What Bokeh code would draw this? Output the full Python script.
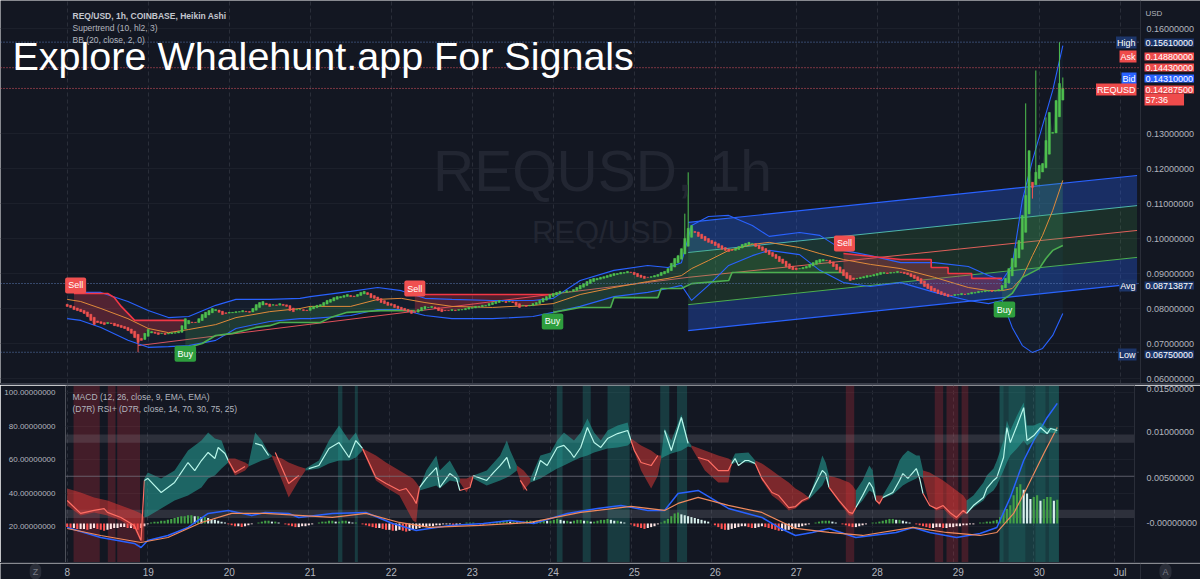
from bokeh.plotting import figure
from bokeh.models import (Range1d, LinearAxis, FixedTicker, CustomJSTickFormatter,
                          NumeralTickFormatter, Label, Span, Spacer, BoxAnnotation, ColumnDataSource)
from bokeh.layouts import column
from bokeh.embed import file_html
from bokeh.resources import INLINE
from bokeh.core.properties import value

# ------------------------------------------------------------------ data
day_ticks = [0, 24, 48, 72, 96, 120, 144, 168, 192, 216, 240, 264, 288, 312]
day_labels = ["8", "19", "20", "21", "22", "23", "24", "25", "26", "27", "28", "29", "30", "Jul"]
price_ticks = [0.06, 0.07, 0.08, 0.09, 0.10, 0.11, 0.12, 0.13, 0.16]

ha_first_open = 0.0812
ha_close = [
    0.0806, 0.0803, 0.0797, 0.0794, 0.0791, 0.0786, 0.0777, 0.0766, 0.0754, 0.0760, 0.0757, 0.0754,
    0.0760, 0.0757, 0.0751, 0.0749, 0.0746, 0.0743, 0.0737, 0.0729, 0.0717, 0.0703, 0.0709, 0.0729,
    0.0740, 0.0734, 0.0729, 0.0726, 0.0729, 0.0726, 0.0729, 0.0731, 0.0731, 0.0734, 0.0751, 0.0771,
    0.0766, 0.0760, 0.0760, 0.0771, 0.0783, 0.0789, 0.0794, 0.0800, 0.0797, 0.0789, 0.0783, 0.0786,
    0.0789, 0.0789, 0.0791, 0.0791, 0.0794, 0.0791, 0.0789, 0.0800, 0.0811, 0.0817, 0.0820, 0.0811,
    0.0806, 0.0811, 0.0809, 0.0814, 0.0809, 0.0806, 0.0794, 0.0791, 0.0797, 0.0797, 0.0794, 0.0794,
    0.0803, 0.0806, 0.0809, 0.0811, 0.0817, 0.0823, 0.0826, 0.0831, 0.0834, 0.0834, 0.0837, 0.0840,
    0.0834, 0.0834, 0.0840, 0.0846, 0.0849, 0.0840, 0.0831, 0.0829, 0.0823, 0.0817, 0.0814, 0.0809,
    0.0809, 0.0803, 0.0800, 0.0797, 0.0794, 0.0791, 0.0786, 0.0789, 0.0797, 0.0803, 0.0806, 0.0803,
    0.0806, 0.0800, 0.0794, 0.0791, 0.0794, 0.0794, 0.0797, 0.0794, 0.0797, 0.0797, 0.0800, 0.0803,
    0.0803, 0.0806, 0.0806, 0.0809, 0.0809, 0.0814, 0.0817, 0.0820, 0.0823, 0.0820, 0.0817, 0.0820,
    0.0817, 0.0809, 0.0803, 0.0809, 0.0806, 0.0809, 0.0814, 0.0817, 0.0823, 0.0829, 0.0834, 0.0840,
    0.0843, 0.0846, 0.0849, 0.0846, 0.0851, 0.0849, 0.0854, 0.0860, 0.0866, 0.0871, 0.0877, 0.0883,
    0.0886, 0.0886, 0.0889, 0.0891, 0.0894, 0.0897, 0.0900, 0.0900, 0.0903, 0.0903, 0.0906, 0.0903,
    0.0897, 0.0891, 0.0889, 0.0886, 0.0889, 0.0891, 0.0894, 0.0897, 0.0903, 0.0906, 0.0914, 0.0929,
    0.0943, 0.0951, 0.0971, 0.1000, 0.1029, 0.1037, 0.1017, 0.1006, 0.1000, 0.0994, 0.0989, 0.0986,
    0.0980, 0.0974, 0.0969, 0.0966, 0.0963, 0.0966, 0.0971, 0.0977, 0.0983, 0.0986, 0.0989, 0.0986,
    0.0977, 0.0971, 0.0966, 0.0960, 0.0954, 0.0949, 0.0943, 0.0934, 0.0929, 0.0920, 0.0914, 0.0911,
    0.0911, 0.0914, 0.0917, 0.0920, 0.0926, 0.0931, 0.0937, 0.0940, 0.0940, 0.0937, 0.0929, 0.0920,
    0.0911, 0.0903, 0.0894, 0.0886, 0.0880, 0.0883, 0.0886, 0.0889, 0.0891, 0.0894, 0.0894, 0.0897,
    0.0900, 0.0903, 0.0903, 0.0900, 0.0903, 0.0903, 0.0906, 0.0903, 0.0900, 0.0897, 0.0891, 0.0886,
    0.0880, 0.0871, 0.0863, 0.0857, 0.0851, 0.0849, 0.0843, 0.0840, 0.0837, 0.0834, 0.0837, 0.0840,
    0.0840, 0.0843, 0.0840, 0.0843, 0.0846, 0.0846, 0.0849, 0.0849, 0.0851, 0.0851, 0.0849, 0.0851,
    0.0854, 0.0866, 0.0886, 0.0914, 0.0943, 0.0971, 0.0994, 0.1066, 0.1123, 0.1251, 0.1146, 0.1189,
    0.1209, 0.1214, 0.1280, 0.1360, 0.1303, 0.1394, 0.1443, 0.142875,
]
spike_h = [21, 183, 184, 284, 286, 287, 290, 294, 295]
spike_high = [None, 0.1071, 0.1189, 0.1386, None, 0.1480, 0.1346, 0.1561, 0.1460]
spike_low = [0.0675, None, None, None, 0.1114, None, None, None, None]

bb_h = [0, 4, 10, 18, 24, 30, 36, 44, 50, 60, 69, 72, 84, 92, 99, 106, 114, 126, 138, 144, 152, 162,
        172, 178, 182, 185, 190, 196, 203, 208, 217, 223, 230, 238, 247, 257, 267, 273, 277, 280, 283,
        286, 289, 292, 295]
bb_upper = [0.0851, 0.0846, 0.0846, 0.0820, 0.0794, 0.0774, 0.0777, 0.0809, 0.0826, 0.0826, 0.0829,
            0.0834, 0.0849, 0.0860, 0.0851, 0.0829, 0.0826, 0.0823, 0.0823, 0.0829, 0.0880, 0.0909,
            0.0923, 0.0917, 0.0931, 0.1037, 0.1063, 0.1066, 0.1037, 0.1006, 0.1017, 0.1009, 0.0966,
            0.0951, 0.0931, 0.0931, 0.0920, 0.0894, 0.0880, 0.0923, 0.1109, 0.1223, 0.1323, 0.1423, 0.1551]
bb_basis = [0.0826, 0.0820, 0.0800, 0.0771, 0.0743, 0.0731, 0.0740, 0.0754, 0.0774, 0.0791, 0.0800,
            0.0806, 0.0806, 0.0826, 0.0829, 0.0817, 0.0806, 0.0803, 0.0809, 0.0814, 0.0840, 0.0860,
            0.0877, 0.0886, 0.0894, 0.0914, 0.0937, 0.0966, 0.0983, 0.0989, 0.0974, 0.0957, 0.0940,
            0.0926, 0.0914, 0.0889, 0.0860, 0.0851, 0.0851, 0.0857, 0.0889, 0.0951, 0.1009, 0.1080, 0.1166]
bb_lower = [0.0771, 0.0766, 0.0746, 0.0709, 0.0689, 0.0691, 0.0694, 0.0709, 0.0743, 0.0763, 0.0771,
            0.0771, 0.0780, 0.0797, 0.0797, 0.0780, 0.0771, 0.0771, 0.0777, 0.0789, 0.0806, 0.0834,
            0.0846, 0.0857, 0.0866, 0.0823, 0.0866, 0.0923, 0.0951, 0.0966, 0.0954, 0.0909, 0.0874,
            0.0863, 0.0874, 0.0846, 0.0823, 0.0814, 0.0823, 0.0746, 0.0694, 0.0674, 0.0686, 0.0723, 0.0786]

st_red_h = [[2, 12, 14, 16, 18, 20, 35], [103, 120, 144],
            [230, 247, 256, 256, 261, 261, 268, 268, 277]]
st_red_v = [[0.0843, 0.0843, 0.0831, 0.0806, 0.0786, 0.0766, 0.0766], [0.0840, 0.0840, 0.0840],
            [0.0957, 0.0940, 0.0940, 0.0917, 0.0917, 0.0900, 0.0900, 0.0886, 0.0886]]
st_green_h = [[35, 40, 44, 49, 56, 60, 63, 75, 78, 83, 93, 103],
              [144, 152, 161, 162, 175, 176, 182, 185, 196, 197, 230],
              [277, 280, 283, 288, 290, 292, 295]]
st_green_v = [[0.0686, 0.0700, 0.0723, 0.0729, 0.0746, 0.0751, 0.0760, 0.0760, 0.0774, 0.0789, 0.0794, 0.0794],
              [0.0789, 0.0803, 0.0803, 0.0831, 0.0831, 0.0857, 0.0857, 0.0871, 0.0880, 0.0903, 0.0903],
              [0.0823, 0.0843, 0.0889, 0.0914, 0.0943, 0.0966, 0.0980]]

sell_h = [2.5, 103, 230.3]
sell_p = [0.0866, 0.0857, 0.0986]
buy_h = [35, 143.8, 277.7]
buy_p = [0.0671, 0.0763, 0.0797]

reg_h = [184, 317]
reg_upper = [0.1046, 0.1180]
reg_upmid = [0.0960, 0.1094]
reg_center = [0.0889, 0.1023]
reg_lowmid = [0.0811, 0.0946]
reg_lower = [0.0737, 0.0871]
trend_h = [21, 184]
trend_v = [0.0694, 0.0889]

price_high = 0.1561
price_ask = 0.1488
price_mark = 0.1443
price_bid = 0.1431
price_last = 0.142875
price_avg = 0.08713877
price_low = 0.0675

macd_hist_e4 = [
    -4, -5, -5, -6, -6, -6, -7, -6, -5, -6, -7, -8, -7, -6, -5, -5, -4, -4, -5, -5, -6, -7, -5, -3,
    -1, 1, 2, 2, 3, 3, 4, 5, 6, 7, 8, 8, 9, 9, 8, 8, 7, 7, 6, 5, 4, 3, 2, 1,
    -1, -2, -3, -3, -4, -3, -2, -1, 0, 1, 2, 3, 3, 2, 2, 1, 0, -1, -2, -3, -4, -4, -3, -3,
    -2, -1, 0, 1, 2, 2, 3, 3, 2, 2, 3, 3, 2, 1, 1, 0, -1, -2, -3, -4, -5, -5, -6, -7,
    -7, -8, -8, -7, -8, -9, -8, -7, -6, -5, -4, -4, -3, -3, -2, -2, -1, -1, -1, -2, -2, -1, 0, 1,
    1, 1, 0, -1, -1, 0, 1, 1, 2, 2, 3, 3, 2, 2, 1, 1, 2, 3, 3, 2, 3, 4, 4, 3,
    3, 4, 5, 4, 3, 3, 2, 3, 4, 4, 3, 3, 2, 2, 3, 4, 4, 5, 4, 3, 3, 2, 1, 0,
    -1, -3, -4, -5, -6, -5, -4, -3, -1, 1, 3, 5, 8, 11, 12, 10, 9, 8, 7, 6, 5, 4, 3, 2,
    0, -2, -4, -6, -7, -7, -6, -5, -4, -3, -3, -4, -5, -5, -4, -3, -4, -5, -6, -7, -8, -8, -7, -7,
    -6, -5, -4, -3, -2, -1, 0, 1, 2, 3, 3, 3, 2, 1, 0, -1, -2, -3, -4, -4, -3, -2, -1, 0,
    1, 1, 2, 3, 4, 5, 5, 4, 4, 3, 2, 1, 0, -1, -2, -3, -4, -5, -5, -4, -4, -5, -5, -4,
    -4, -3, -3, -2, -2, -1, -1, 0, 1, 1, 2, 2, 3, 4, 7, 12, 16, 20, 31, 40, 43, 37, 33, 27,
    29, 31, 25, 27, 29, 29, 25, 26,
]
macd_h = [0, 5, 10, 20, 22, 24, 30, 36, 42, 48, 55, 59, 66, 69, 79, 89, 97, 104, 114, 124, 132, 139,
          149, 158, 165, 173, 178, 182, 188, 197, 207, 212, 217, 222, 227, 235, 247, 252, 257, 265,
          272, 277, 281, 285, 288, 292, 295]
macd_v = [-0.00044, -0.00099, -0.00154, -0.00220, -0.00264, -0.00187, -0.00132, -0.00044, 0.00110,
          0.00143, 0.00088, 0.00121, 0.00110, 0.00066, 0.00110, 0.00121, 0.0, -0.00077, -0.00022, 0.0,
          0.00033, 0.0, 0.00110, 0.00165, 0.00198, 0.00143, 0.00143, 0.00330, 0.00363, 0.00165,
          0.00066, -0.00044, -0.00132, -0.00099, -0.00055, -0.00154, -0.00099, -0.00044, -0.00099,
          -0.00154, -0.00110, -0.00044, 0.00286, 0.00692, 0.00912, 0.01165, 0.01319]
signal_h = [0, 10, 22, 30, 40, 49, 59, 69, 79, 89, 99, 108, 123, 138, 153, 168, 178, 182, 188, 197,
            207, 217, 227, 237, 252, 262, 272, 277, 282, 286, 291, 295]
signal_v = [-0.00055, -0.00132, -0.00209, -0.00154, 0.00011, 0.00110, 0.00110, 0.00088, 0.00066,
            0.00110, 0.00011, -0.00044, -0.00022, 0.00011, 0.00121, 0.00187, 0.00143, 0.00220,
            0.00286, 0.00198, 0.00121, -0.00055, -0.00099, -0.00132, -0.00044, -0.00099, -0.00132,
            -0.00099, 0.00110, 0.00396, 0.00769, 0.01055]

rsi_h = [0, 4, 8, 11, 12, 16, 20, 22, 23, 24, 28, 32, 36, 38, 40, 42, 44, 45, 47, 48, 50, 53, 56, 58,
         60, 62, 66, 69, 72, 75, 78, 81, 84, 86, 88, 92, 95, 99, 101, 103, 104, 105, 107, 110, 111,
         114, 116, 117, 120, 121, 125, 127, 129, 131, 132, 135, 137, 139, 141, 143, 146, 148, 150,
         151, 153, 155, 157, 159, 161, 164, 167, 168, 169, 171, 174, 176, 178, 180, 183, 185, 188,
         191, 194, 197, 198, 199, 200, 202, 203, 205, 207, 210, 212, 215, 217, 219, 221, 223, 225,
         226, 227, 230, 233, 234, 235, 237, 239, 240, 241, 242, 243, 246, 248, 249, 250.5, 253, 254,
         255, 257, 259, 261, 263, 265, 267, 268, 270, 273, 274, 276, 277, 279, 280, 281, 283, 285,
         286, 288, 290, 292, 293, 295]
rsi_v = [35.5, 27.8, 29.6, 30.7, 28.4, 25.4, 20.6, 11.6, 47.5, 48.7, 40.3, 46.3, 58.2, 53.4, 59.4,
         64.2, 60.6, 67.2, 63.6, 59.4, 52.2, 55.8, 69.6, 68.4, 62.4, 64.2, 45.7, 50.4, 54.6, 56.4,
         66.6, 70.1, 61.2, 71.3, 66.6, 49.3, 45.7, 41.5, 42.7, 37.3, 33.7, 43.3, 48.7, 55.2, 43.3,
         51.6, 48.7, 41.5, 43.3, 50.4, 47.5, 52.2, 56.4, 61.2, 54.6, 47.5, 41.5, 47.5, 59.4, 56.4,
         67.2, 68.4, 64.2, 61.2, 67.2, 79.1, 70.1, 67.2, 72.5, 75.5, 77.3, 71.3, 65.4, 58.2, 56.4,
         62.4, 77.3, 65.4, 85.1, 69.6, 61.2, 59.4, 53.4, 53.4, 57.6, 60.6, 56.4, 59.4, 59.4, 57.6,
         48.7, 40.3, 38.5, 31.3, 31.9, 35.5, 37.3, 45.7, 53.4, 51.6, 43.3, 35.5, 28.4, 27.8, 31.3,
         38.5, 46.3, 43.3, 35.5, 33.7, 37.3, 40.3, 47.5, 51.6, 48.7, 54.6, 48.7, 39.7, 32.5, 30.7,
         32.5, 28.4, 25.4, 29.6, 27.8, 32.5, 37.3, 42.7, 47.5, 49.3, 61.2, 79.1, 70.1, 80.3, 91.0,
         71.3, 74.3, 79.1, 75.5, 78.5, 77.3]

# RSI band segments (0 = bearish/red, 1 = bullish/teal)
rsi_seg_state = [0, 1, 0, 1, 0, 1, 0, 1, 0, 1, 0, 1, 0, 1, 0, 1, 0, 1, 0, 1, 0, 1, 0, 1]
rsi_seg_h = [
    [0, 4, 8, 12, 16, 20, 22, 23],
    [23, 24, 28, 32, 36, 40, 42, 44, 46, 48],
    [48, 50, 53, 54],
    [54, 56, 58, 60, 61],
    [61, 64, 66, 69, 71],
    [71, 75, 78, 81, 84, 86, 88],
    [88, 92, 95, 99, 103, 104, 105],
    [105, 107, 110, 111, 114, 117],
    [117, 119, 121],
    [121, 125, 129, 131, 132, 134],
    [134, 136, 138],
    [138, 141, 144, 146, 148, 151, 153, 155, 157, 159, 161, 164, 167, 168],
    [168, 171, 174, 176, 177],
    [177, 178, 180, 183, 185, 186],
    [186, 190, 194, 197, 198],
    [198, 199, 203, 205],
    [205, 207, 210, 212, 215, 217, 219, 221],
    [221, 223, 225, 226, 227],
    [227, 230, 233, 234, 235],
    [235, 237, 239, 240, 241],
    [241, 242, 243],
    [243, 246, 248, 249, 250.5, 253, 254, 255],
    [255, 257, 259, 261, 263, 265, 267, 268],
    [268, 270, 273, 274, 276, 277, 279, 280, 281, 283, 285, 286, 288, 290, 292, 293, 295],
]
rsi_seg_top = [
    [42.7, 40.3, 37.3, 35.5, 32.5, 29.6, 27.8, 25.4],
    [48.7, 52.2, 48.7, 53.4, 65.4, 71.3, 76.1, 72.5, 71.3, 60.6],
    [60.6, 60.6, 58.2, 57.0],
    [57.0, 76.1, 71.3, 64.2, 62.4],
    [62.4, 60.6, 58.2, 55.8, 54.6],
    [54.6, 59.4, 71.3, 80.3, 71.3, 76.1, 66.6],
    [66.6, 62.4, 58.2, 53.4, 48.7, 46.3, 43.3],
    [43.3, 53.4, 62.4, 53.4, 59.4, 48.7],
    [48.7, 48.7, 50.4],
    [50.4, 53.4, 62.4, 71.3, 65.4, 56.4],
    [56.4, 53.4, 48.7],
    [48.7, 62.4, 64.2, 71.3, 76.1, 71.3, 76.1, 84.5, 76.1, 71.3, 77.3, 80.3, 82.1, 72.5],
    [72.5, 68.4, 65.4, 62.4, 62.4],
    [62.4, 78.5, 71.3, 86.9, 71.3, 68.4],
    [68.4, 65.4, 62.4, 60.6, 59.4],
    [59.4, 63.6, 64.2, 59.4],
    [59.4, 57.6, 53.4, 50.4, 46.3, 42.7, 40.3, 37.3],
    [37.3, 48.7, 62.4, 58.2, 50.4],
    [50.4, 48.7, 46.3, 44.5, 41.5],
    [41.5, 47.5, 56.4, 53.4, 38.5],
    [38.5, 38.5, 38.5],
    [38.5, 48.7, 59.4, 62.4, 65.4, 62.4, 62.4, 53.4],
    [53.4, 52.2, 49.9, 47.5, 44.5, 41.5, 38.5, 35.5],
    [35.5, 38.5, 46.3, 50.4, 54.6, 59.4, 71.3, 83.3, 77.3, 86.3, 94.0, 80.3, 80.3, 82.1, 78.5, 79.1, 78.5],
]
rsi_seg_bot = [
    [32.5, 26.6, 28.4, 26.6, 23.6, 18.8, 10.4, 11.6],
    [25.4, 26.0, 30.7, 35.5, 38.5, 43.3, 48.7, 50.4, 54.6, 58.2],
    [58.2, 50.4, 53.4, 55.8],
    [55.8, 57.6, 59.4, 60.6, 61.8],
    [61.8, 47.5, 37.3, 47.5, 53.4],
    [53.4, 54.6, 57.6, 59.4, 59.4, 61.2, 65.4],
    [65.4, 47.5, 43.3, 38.5, 23.6, 22.4, 41.5],
    [41.5, 42.7, 44.5, 42.7, 47.5, 46.3],
    [46.3, 40.3, 48.7],
    [48.7, 44.5, 47.5, 49.3, 50.4, 53.4],
    [53.4, 41.5, 46.3],
    [46.3, 48.7, 52.2, 54.6, 56.4, 59.4, 61.2, 62.4, 64.2, 65.4, 66.6, 67.2, 68.4, 70.1],
    [70.1, 53.4, 42.7, 50.4, 60.6],
    [60.6, 61.8, 63.6, 65.4, 67.8, 67.2],
    [67.2, 53.4, 46.3, 46.3, 57.0],
    [57.0, 58.2, 58.2, 57.0],
    [57.0, 47.5, 38.5, 35.5, 29.6, 30.7, 34.4, 36.1],
    [36.1, 40.3, 44.5, 48.7, 42.7],
    [42.7, 34.4, 26.6, 26.6, 31.3],
    [31.3, 35.5, 41.5, 40.3, 35.5],
    [35.5, 32.5, 36.7],
    [36.7, 39.1, 42.7, 44.5, 46.3, 48.7, 50.4, 48.7],
    [48.7, 32.5, 29.6, 30.7, 26.6, 23.6, 27.8, 27.8],
    [27.8, 31.3, 35.5, 38.5, 41.5, 44.5, 53.4, 58.2, 62.4, 66.6, 71.3, 68.4, 71.3, 76.1, 74.9, 76.1, 75.5],
]

# hours where the RSI+ marks extreme zones
rsi_red_zones = [(1.9, 9.7), (12.1, 14.4), (14.9, 21.7), (232, 234.5), (258.5, 261), (262, 265.5), (266.5, 268.5)]
rsi_teal_zones = [(80.7, 82), (85.7, 86.6), (145.9, 147.6), (153.6, 156), (161, 167.6), (176.7, 179.4),
                  (181.7, 184.7), (277.8, 295.5)]
rsi_teal_strong = [(277.8, 279), (280.5, 285.5), (288.5, 291.5), (292.5, 295.5)]

# ------------------------------------------------------------------ style / layout
BG = "#131722"
TXT = "#b2b5be"
GRID = "#1c202b"
DAYGRID = "#2a2e39"
FONT = "Liberation Sans"
UP = "#4fc04f"
DN = "#ef5350"
W = 1200
H1, H2, H3 = 383, 177, 16
HOUR_PX = 81 / 24.0
X0_PAGE = 66.7
LEFT, RIGHT = 65, 60
SCALE_X = W - RIGHT  # page x of the price-scale border


def hour_at(px):
    return (px - X0_PAGE) / HOUR_PX


def add_label(fig, x, y, text, size, color=TXT, align="left", baseline="middle", bg=None,
              pad=0, bold=False, xu="screen", yu="screen", alpha=1.0, radius=0):
    kw = dict(x=x, y=y, x_units=xu, y_units=yu, text=text, text_font_size=size,
              text_color=color, text_align=align, text_baseline=baseline,
              text_font=FONT, text_alpha=alpha)
    if bold:
        kw["text_font_style"] = "bold"
    if bg is not None:
        kw.update(background_fill_color=bg, background_fill_alpha=1.0, padding=pad,
                  border_radius=radius)
    fig.add_layout(Label(**kw))


def base_fig(height, xrange, yrange, left, right, **kw):
    return figure(width=W, height=height, x_range=xrange, y_range=yrange,
                  output_backend="svg", toolbar_location=None, frame_align=False,
                  background_fill_color=BG, border_fill_color=BG, outline_line_color=None,
                  min_border_left=left, min_border_right=right, min_border_top=0,
                  min_border_bottom=0, **kw)


fix8 = CustomJSTickFormatter(code="return Math.abs(tick) < 1e-9 ? '-0.00000000' : tick.toFixed(8);")

# ------------------------------------------------------------------ main pane
p1 = base_fig(H1, Range1d(hour_at(0), hour_at(W)),
              Range1d(0.16 - (H1 - 28) / 3500.0, 0.168), 0, 0)
p1.xaxis.visible = False
p1.yaxis.visible = False
p1.xgrid.ticker = FixedTicker(ticks=day_ticks)
p1.xgrid.grid_line_color = DAYGRID
p1.xgrid.grid_line_dash = "4 3"
p1.ygrid.ticker = FixedTicker(ticks=price_ticks)
p1.ygrid.grid_line_color = GRID
try:
    p1.ygrid.cross_bounds = (hour_at(0), hour_at(SCALE_X))
except Exception:
    pass

# price scale (border line + tick texts)
p1.add_layout(Span(location=hour_at(SCALE_X), dimension="height", line_color=DAYGRID, line_width=1))
p1.text(x=[hour_at(SCALE_X + 6)] * len(price_ticks), y=price_ticks,
        text=["%.8f" % t for t in price_ticks], text_font_size="9px", text_font=value(FONT),
        text_color=TXT, text_align="left", text_baseline="middle")

# watermark
add_label(p1, 602, H1 - 170, "REQUSD, 1h", "57px", color="#222632", align="center")
add_label(p1, 602, H1 - 232, "REQ/USD", "31px", color="#222632", align="center")

# regression channel
p1.varea(x=reg_h, y1=reg_upmid, y2=reg_upper, fill_color="#2962ff", fill_alpha=0.3)
p1.varea(x=reg_h, y1=reg_lowmid, y2=reg_upmid, fill_color="#4caf50", fill_alpha=0.16)
p1.varea(x=reg_h, y1=reg_lower, y2=reg_lowmid, fill_color="#2962ff", fill_alpha=0.3)
p1.line(reg_h, reg_upper, line_color="#2962ff", line_width=1.2)
p1.line(reg_h, reg_upmid, line_color="#4db6ac", line_width=1)
p1.line(reg_h, reg_center, line_color="#e0605a", line_width=1)
p1.line(reg_h, reg_lowmid, line_color="#4caf50", line_width=1)
p1.line(reg_h, reg_lower, line_color="#2962ff", line_width=1.2)
p1.line(trend_h, trend_v, line_color="#e0505a", line_width=1)

# bollinger
p1.varea(x=bb_h, y1=bb_lower, y2=bb_upper, fill_color="#2196f3", fill_alpha=0.05)

# ha candles
n = len(ha_close)
hours = list(range(n))
ha_open = [ha_first_open]
for i in range(1, n):
    ha_open.append((ha_open[i - 1] + ha_close[i - 1]) / 2.0)
body_top = [max(o, c) for o, c in zip(ha_open, ha_close)]
body_bot = [min(o, c) for o, c in zip(ha_open, ha_close)]
high = list(body_top)
low = list(body_bot)
for h, hi, lo in zip(spike_h, spike_high, spike_low):
    if hi is not None:
        high[h] = hi
    if lo is not None:
        low[h] = lo
ccol = [UP if c >= o else DN for o, c in zip(ha_open, ha_close)]


def st_fill(hs, vs, color, alpha):
    h0, h1 = hs[0], hs[-1]
    idx = [i for i in hours if h0 <= i <= h1]
    xs = list(hs) + [hours[i] for i in reversed(idx)]
    ys = list(vs) + [ha_close[i] for i in reversed(idx)]
    p1.patch(xs, ys, fill_color=color, fill_alpha=alpha, line_color=None)


for hs, vs in zip(st_red_h, st_red_v):
    st_fill(hs, vs, "#f23645", 0.28)
for hs, vs in zip(st_green_h, st_green_v):
    st_fill(hs, vs, "#4caf50", 0.2)

p1.line(bb_h, bb_upper, line_color="#2962ff", line_width=1.1)
p1.line(bb_h, bb_lower, line_color="#2962ff", line_width=1.1)
p1.line(bb_h, bb_basis, line_color="#e08a3a", line_width=1)

for hs, vs in zip(st_red_h, st_red_v):
    p1.line(hs, vs, line_color="#f23645", line_width=1.6)
for hs, vs in zip(st_green_h, st_green_v):
    p1.line(hs, vs, line_color="#4caf50", line_width=1.6)

src = ColumnDataSource(dict(x=hours, top=body_top, bot=body_bot, hi=high, lo=low, c=ccol))
p1.segment(x0="x", y0="lo", x1="x", y1="hi", color="c", line_width=1, source=src)
p1.vbar(x="x", width=0.62, top="top", bottom="bot", fill_color="c", line_color="c",
        line_width=0.5, source=src)

# price lines (dotted, up to the price scale)
pl_vals = [price_high, price_ask, price_last, price_avg, price_low]
pl_cols = ["#5b7bb5", "#e05560", "#e05560", "#5b7bb5", "#5b7bb5"]
p1.segment(x0=[hour_at(0)] * 5, y0=pl_vals, x1=[hour_at(SCALE_X)] * 5, y1=pl_vals,
           line_color=pl_cols, line_dash="1 2", line_width=1)

# signals
for h, pr in zip(sell_h, sell_p):
    add_label(p1, h, pr, "Sell", "9px", color="white", align="center", bg="#f05050", pad=3,
              xu="data", yu="data", radius=2)
for h, pr in zip(buy_h, buy_p):
    add_label(p1, h, pr, "Buy", "9px", color="white", align="center", bg="#2e9e3e", pad=3,
              xu="data", yu="data", radius=2)

# legends / titles (screen units: page x, height - page y)
add_label(p1, 72, H1 - 15, "REQ/USD, 1h, COINBASE, Heikin Ashi", "8.5px", color="#c3c6ce", bold=True)
add_label(p1, 72, H1 - 27, "Supertrend (10, hl2, 3)", "8.5px")
add_label(p1, 72, H1 - 39, "BB (20, close, 2, 0)", "8.5px")
add_label(p1, 12, H1 - 55, "Explore Whalehunt.app For Signals", "39.5px", color="white")

# price scale tags
NAVY = "#1c3569"
add_label(p1, 1145, H1 - 13, "USD", "8px")
tags = [
    (42, "High", "0.15610000", NAVY),
    (56, "Ask", "0.14880000", "#ef4b4b"),
    (67, None, "0.14430000", "#ef4b4b"),
    (78, "Bid", "0.14310000", "#2962ff"),
    (89, "REQUSD", "0.14287500", "#ef4b4b"),
    (99, None, "57:36      ", "#ef4b4b"),
    (285, "Avg", "0.08713877", NAVY),
    (354, "Low", "0.06750000", NAVY),
]
for py, name, txt, col in tags:
    add_label(p1, 1144, H1 - py, txt, "9px", color="white", bg=col, pad=1)
    if name:
        add_label(p1, 1136, H1 - py, name, "9px", color="white", align="right", bg=col, pad=1)

# ------------------------------------------------------------------ lower pane
p2 = base_fig(H2, Range1d(hour_at(LEFT), hour_at(SCALE_X)), Range1d(-1.5, 104.2), LEFT, RIGHT)
p2.extra_y_ranges = {"macd": Range1d(-0.00429, 0.01516)}
p2.xaxis.visible = False
p2.xgrid.ticker = FixedTicker(ticks=day_ticks)
p2.xgrid.grid_line_color = DAYGRID
p2.xgrid.grid_line_dash = "4 3"
p2.ygrid.grid_line_color = GRID

la = p2.yaxis[0]
la.ticker = FixedTicker(ticks=[20, 40, 60, 80, 100])
la.formatter = NumeralTickFormatter(format="0.00000000")
la.axis_line_color = None
la.major_tick_line_color = None
la.minor_tick_line_color = None
la.major_label_text_color = TXT
la.major_label_text_font_size = "8px"
la.major_label_text_font = FONT
la.major_label_standoff = 4

ra = LinearAxis(y_range_name="macd", ticker=FixedTicker(ticks=[0, 0.005, 0.01, 0.015]),
                formatter=fix8, axis_line_color=DAYGRID, major_tick_line_color=None,
                minor_tick_line_color=None, major_label_text_color=TXT,
                major_label_text_font_size="9px", major_label_text_font=FONT,
                major_label_standoff=6)
p2.add_layout(ra, "right")

for a, b in rsi_red_zones:
    p2.add_layout(BoxAnnotation(left=a, right=b, fill_color="#f23645", fill_alpha=0.22,
                                line_color=None, level="underlay"))
for a, b in rsi_teal_zones:
    p2.add_layout(BoxAnnotation(left=a, right=b, fill_color="#26a69a", fill_alpha=0.25,
                                line_color=None, level="underlay"))
for a, b in rsi_teal_strong:
    p2.add_layout(BoxAnnotation(left=a, right=b, fill_color="#26a69a", fill_alpha=0.15,
                                line_color=None, level="underlay"))
p2.add_layout(BoxAnnotation(bottom=70, top=75, fill_color="#9598a1", fill_alpha=0.2,
                            line_color=None, level="underlay"))
p2.add_layout(BoxAnnotation(bottom=25, top=30, fill_color="#9598a1", fill_alpha=0.2,
                            line_color=None, level="underlay"))
p2.add_layout(Span(location=50, dimension="width", line_color="#787b86", line_alpha=0.7,
                   line_width=1))

# MACD histogram
hist_val = [v * 1e-4 for v in macd_hist_e4]
hcol = []
prev = 0
for v in macd_hist_e4:
    if v >= 0:
        hcol.append("#43a047" if v >= prev else "#d8f0ec")
    else:
        hcol.append("#ff5252" if v < prev else "#ffe4e4")
    prev = v
p2.vbar(x=list(range(len(hist_val))), width=0.62, top=hist_val, bottom=0, fill_color=hcol,
        line_color=None, y_range_name="macd")
p2.line(macd_h, macd_v, line_color="#2962ff", line_width=1.5, y_range_name="macd")
p2.line(signal_h, signal_v, line_color="#f08a5d", line_width=1.2, y_range_name="macd")

# RSI+ bands and line
for st, hs, tp, bt in zip(rsi_seg_state, rsi_seg_h, rsi_seg_top, rsi_seg_bot):
    col = "#26a69a" if st == 1 else "#e53935"
    p2.varea(x=hs, y1=bt, y2=tp, fill_color=col, fill_alpha=0.55 if st == 1 else 0.5)
    xs = [h for h in rsi_h if hs[0] <= h <= hs[-1]]
    ys = [v for h, v in zip(rsi_h, rsi_v) if hs[0] <= h <= hs[-1]]
    p2.line(xs, ys, line_color="#b9f6ea" if st == 1 else "#ff6e64", line_width=1.2)

add_label(p2, 7, H2 - 11, "MACD (12, 26, close, 9, EMA, EMA)", "8.5px")
add_label(p2, 7, H2 - 23, "(D7R) RSI+ (D7R, close, 14, 70, 30, 75, 25)", "8.5px")

# ------------------------------------------------------------------ time scale strip
p3 = base_fig(H3, Range1d(hour_at(0), hour_at(W)), Range1d(0, 1), 0, 0)
p3.xaxis.visible = False
p3.yaxis.visible = False
p3.xgrid.grid_line_color = None
p3.ygrid.grid_line_color = None
p3.add_layout(Span(location=hour_at(SCALE_X), dimension="height", line_color=DAYGRID, line_width=1))
p3.text(x=day_ticks, y=[0.45] * len(day_ticks), text=day_labels, text_font_size="10px",
        text_font=value(FONT), text_color=TXT, text_align="center", text_baseline="middle")
add_label(p3, 35, 8, "Z", "9px", color="#787b86", align="center", bg="#2a2e39", pad=3, radius=8)
add_label(p3, 1165, 8, "A", "9px", color="#787b86", align="center", bg="#2a2e39", pad=3, radius=8)

sep1 = Spacer(width=W, height=2, styles={"background-color": "#3a3e4a"})
sep2 = Spacer(width=W, height=1, styles={"background-color": DAYGRID})
layout = column(p1, sep1, p2, sep2, p3, spacing=0)

open("out.html", "w").write(file_html(layout, INLINE, "REQUSD"))
